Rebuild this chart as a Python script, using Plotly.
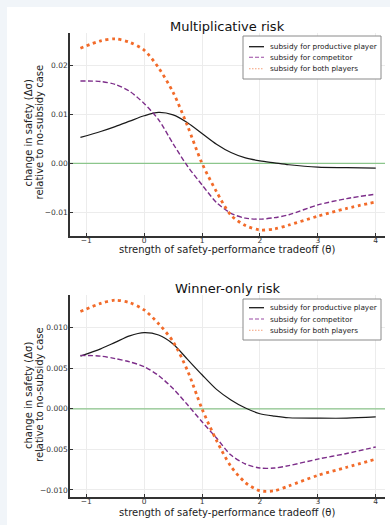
import plotly.graph_objects as go

W, H = 390, 525

theta = [-1.1, -0.75, -0.5, -0.25, 0, 0.25, 0.5, 0.75, 1, 1.25, 1.5, 1.75, 2, 2.25, 2.5, 3, 3.5, 4]

# Multiplicative risk
mult_productive = [0.0053, 0.0065, 0.0075, 0.0086, 0.0097, 0.0104, 0.0099, 0.0083, 0.0061, 0.0039, 0.0022, 0.0011, 0.0005, 0.0001, -0.0003, -0.0008, -0.0009, -0.0010]
mult_competitor = [0.0168, 0.0167, 0.0161, 0.0147, 0.0122, 0.0089, 0.0040, -0.0006, -0.0044, -0.0080, -0.0102, -0.0112, -0.0114, -0.0111, -0.0105, -0.0085, -0.0072, -0.0063]
mult_both = [0.0235, 0.0250, 0.0254, 0.0247, 0.0231, 0.0195, 0.0145, 0.0076, 0.0000, -0.0058, -0.0106, -0.0127, -0.0136, -0.0134, -0.0126, -0.0108, -0.0092, -0.0079]

# Winner-only risk
win_productive = [0.0065, 0.0074, 0.0082, 0.0090, 0.0094, 0.0091, 0.0080, 0.0061, 0.0042, 0.0024, 0.0011, 0.0001, -0.0006, -0.0009, -0.0011, -0.00115, -0.00115, -0.0010]
win_competitor = [0.0066, 0.0065, 0.0062, 0.0058, 0.0052, 0.0041, 0.0025, 0.0005, -0.0016, -0.0036, -0.0057, -0.0068, -0.0073, -0.0073, -0.0070, -0.0062, -0.0055, -0.0047]
win_both = [0.0120, 0.0130, 0.0134, 0.0131, 0.0122, 0.0105, 0.0083, 0.0047, 0.0000, -0.0039, -0.0071, -0.0091, -0.0101, -0.0101, -0.0095, -0.0082, -0.0072, -0.0062]

series_names = ["subsidy for productive player", "subsidy for competitor", "subsidy for both players"]
x_ticks = [-1, 0, 1, 2, 3, 4]
x_ticktext = ["−1", "0", "1", "2", "3", "4"]
y_ticks_top = [-0.01, 0.0, 0.01, 0.02]
y_ticktext_top = ["−0.01", "0.00", "0.01", "0.02"]
y_ticks_bot = [-0.010, -0.005, 0.0, 0.005, 0.010]
y_ticktext_bot = ["−0.010", "−0.005", "0.000", "0.005", "0.010"]
titles = ["Multiplicative risk", "Winner-only risk"]
x_title = "strength of safety-performance tradeoff (θ)"
y_title_lines = ["change in safety (Δσ)", "relative to no-subsidy case"]

FONT = "DejaVu Sans"
styles = [
    dict(color="#1a1a1a", width=1.2, dash="solid"),
    dict(color="#7d2e8a", width=1.4, dash="5px,2.5px"),
    dict(color="#f26b2a", width=2.8, dash="3px,3.6px"),
]
legend_styles = [
    dict(color="#1a1a1a", width=1.3, dash="solid"),
    dict(color="#9a4aa3", width=1.1, dash="4px,2px"),
    dict(color="#f5a07a", width=1.1, dash="1.5px,1.5px"),
]


def px_x(p):
    return p / W


def px_y(p):
    return 1 - p / H


fig = go.Figure()
panels = [
    ("x", "y", [mult_productive, mult_competitor, mult_both]),
    ("x2", "y2", [win_productive, win_competitor, win_both]),
]
for xa, ya, data in panels:
    fig.add_trace(go.Scatter(x=[-1.28, 4.16], y=[0, 0], mode="lines",
                             line=dict(color="#8cc68c", width=1.2),
                             showlegend=False, hoverinfo="skip", xaxis=xa, yaxis=ya))
    for name, ys, st in zip(series_names, data, styles):
        fig.add_trace(go.Scatter(x=theta, y=ys, mode="lines", name=name,
                                 line=dict(shape="spline", smoothing=0.8, **st),
                                 showlegend=False, xaxis=xa, yaxis=ya))

axis_common = dict(
    showline=True, linecolor="#333333", linewidth=1.5, mirror=False,
    ticks="inside", ticklen=3, tickcolor="#333333", tickwidth=1,
    showgrid=True, gridcolor="#ececec", gridwidth=1, zeroline=False,
    tickfont=dict(family=FONT, size=7.5, color="#333333"),
)
x_axis_extra = dict(ticklabelstandoff=-4)
y_axis_extra = dict(ticklabelstandoff=-1)
title_font = dict(family=FONT, size=10, color="#222222")

# custom legends (compact, matplotlib-like)
shapes = [dict(type="rect", xref="paper", yref="paper", x0=px_x(7), x1=1.0,
               y0=0, y1=px_y(7), fillcolor="white", line=dict(width=0), layer="below")]
annotations = []
legend_boxes = [(243, 381, 36, 79, [46.7, 57.3, 68.7]),
                (243, 381, 299, 340, [307.7, 319.0, 330.3])]
for (bx0, bx1, by0, by1, rows) in legend_boxes:
    shapes.append(dict(type="rect", xref="paper", yref="paper",
                       x0=px_x(bx0), x1=px_x(bx1), y0=px_y(by1), y1=px_y(by0),
                       fillcolor="white", line=dict(color="#8a8a8a", width=1), layer="above"))
    for name, ry, st in zip(series_names, rows, legend_styles):
        shapes.append(dict(type="line", xref="paper", yref="paper",
                           x0=px_x(249), x1=px_x(264), y0=px_y(ry), y1=px_y(ry),
                           line=st, layer="above"))
        annotations.append(dict(text=name, xref="paper", yref="paper",
                                x=px_x(268), y=px_y(ry), xanchor="left", yanchor="middle",
                                showarrow=False,
                                font=dict(family=FONT, size=7.3, color="#222222")))

# panel titles, axis titles
for title, ty, xty, ycen in [(titles[0], 27, 249, 132.5), (titles[1], 288, 512, 395)]:
    annotations.append(dict(text=title, xref="paper", yref="paper", x=px_x(227), y=px_y(ty),
                            showarrow=False, font=dict(family=FONT, size=13, color="#111111"),
                            xanchor="center", yanchor="middle"))
    annotations.append(dict(text=x_title, xref="paper", yref="paper", x=px_x(227), y=px_y(xty),
                            showarrow=False, font=title_font, xanchor="center", yanchor="middle"))
    for line_text, lx in zip(y_title_lines, [28, 39]):
        annotations.append(dict(text=line_text, xref="paper", yref="paper",
                                x=px_x(lx), y=px_y(ycen), textangle=-90,
                                showarrow=False, font=title_font,
                                xanchor="center", yanchor="middle"))

fig.update_layout(
    width=W, height=H,
    margin=dict(l=0, r=0, t=0, b=0),
    paper_bgcolor="#f1f5f9",
    plot_bgcolor="white",
    font=dict(family=FONT, color="#222222"),
    showlegend=False,
    xaxis=dict(domain=[px_x(70), px_x(385)], anchor="y", range=[-1.28, 4.16],
               tickvals=x_ticks, ticktext=x_ticktext, **axis_common, **x_axis_extra),
    yaxis=dict(domain=[px_y(236), px_y(33)], anchor="x", range=[-0.01484, 0.0266],
               tickvals=y_ticks_top, ticktext=y_ticktext_top, **axis_common, **y_axis_extra),
    xaxis2=dict(domain=[px_x(70), px_x(385)], anchor="y2", range=[-1.28, 4.16],
                tickvals=x_ticks, ticktext=x_ticktext, **axis_common, **x_axis_extra),
    yaxis2=dict(domain=[px_y(497), px_y(295)], anchor="x2", range=[-0.01087, 0.01404],
                tickvals=y_ticks_bot, ticktext=y_ticktext_bot, **axis_common, **y_axis_extra),
    shapes=shapes,
    annotations=annotations,
)

fig.write_html(
    "out.html",
    config={"displayModeBar": False},
    post_script="document.body.style.margin='0';document.body.style.overflow='hidden';"
                "document.body.style.background='#f1f5f9';",
)
